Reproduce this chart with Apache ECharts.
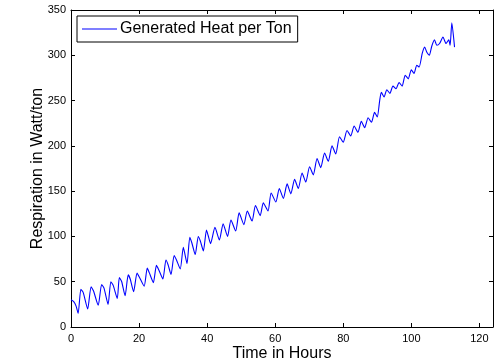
<!DOCTYPE html>
<html>
<head>
<meta charset="utf-8">
<script src="https://cdn.jsdelivr.net/npm/echarts@6/dist/echarts.min.js"></script>
<style>
  html, body { margin: 0; padding: 0; background: #fff; }
  #chart { width: 497px; height: 363px; }
</style>
</head>
<body>
<div id="chart"></div>
<script>
// time (hours) and generated heat per ton (W/ton)
const timeHours = [
  0, 0.8, 1.5, 2.1, 2.9, 3.6, 4.9, 5.9, 6.6, 8.0,
  9.0, 9.7, 10.9, 11.7, 12.4, 13.6, 14.2, 14.9, 15.9, 16.8,
  17.4, 18.4, 19.4, 20.1, 21.5, 22.4, 23.0, 24.2, 25.1, 25.8,
  27.0, 27.9, 28.5, 29.4, 30.3, 31.0, 32.1, 33.0, 33.5, 34.1,
  34.9, 35.5, 36.5, 37.4, 38.0, 38.9, 39.8, 40.3, 41.0, 42.3,
  43.6, 44.7, 46.0, 47.0, 48.4, 49.4, 50.8, 51.8, 53.2, 54.2,
  55.6, 56.5, 57.9, 58.8, 60.2, 61.2, 62.4, 63.5, 64.6, 65.7,
  66.8, 67.9, 69.0, 70.1, 71.2, 72.3, 73.4, 74.5, 75.6, 76.7,
  77.8, 78.9, 80.0, 81.1, 82.2, 83.2, 84.3, 85.3, 86.3, 87.3,
  88.3, 89.2, 90.0, 90.7, 91.2, 92.0, 92.8, 93.7, 94.6, 95.5,
  96.4, 97.3, 98.2, 99.1, 100.0, 100.8, 101.6, 102.3, 103.2, 103.9,
  104.6, 105.3, 106.0, 106.8, 107.5, 108.3, 109.3, 110.2, 111.0, 111.4,
  111.9, 112.7
];
const heatPerTon = [
  30, 28, 23, 15, 41.6, 38, 20, 44.5, 40, 24,
  47, 43, 25, 50, 46, 31.5, 54.5, 50, 34.5, 57.5,
  53, 39, 59.5, 55, 45, 65, 60, 49, 68, 63,
  53, 74, 69, 58, 79, 74, 64, 88, 80, 70,
  99, 93, 80, 100, 95, 84, 107, 101, 92, 110,
  96, 114, 100, 118, 106, 126, 113, 128, 117, 134,
  123, 137, 128, 148, 138, 153, 142, 158, 147, 163,
  153, 170, 160, 177, 168, 186, 176, 192, 183, 200,
  191, 210, 204, 217, 211, 222, 215, 227, 220, 231,
  226, 237, 232, 250, 259, 254, 262, 258, 266, 263,
  270, 266, 278, 274, 284, 280, 289, 287, 302, 309,
  303, 300, 310, 317, 311, 313, 320, 313, 317, 311,
  336, 309
];
const xTicks = [0, 20, 40, 60, 80, 100, 120];
const yTicks = [0, 50, 100, 150, 200, 250, 300, 350];

const font = 'Liberation Sans, Arial, sans-serif';
const chart = echarts.init(document.getElementById('chart'));

const boxAxis = {
  axisLine: { show: true, onZero: false, lineStyle: { color: '#000', width: 1 } },
  axisTick: { show: true, inside: true, length: 4, lineStyle: { color: '#000' } },
  splitLine: { show: false }
};

chart.setOption({
  animation: false,
  textStyle: { fontFamily: font },
  grid: { left: 71, right: 4, top: 10, bottom: 36, outerBoundsMode: 'none' },
  legend: {
    left: 77, top: 16,
    padding: [5, 6, 5, 5],
    borderColor: '#000', borderWidth: 1,
    icon: 'rect',
    itemWidth: 35, itemHeight: 1, itemGap: 4,
    itemStyle: { color: '#0000ff' },
    textStyle: { fontFamily: font, fontSize: 16, color: '#000', padding: [0, 0, 0, -2] },
    data: ['Generated Heat per Ton']
  },
  xAxis: [
    Object.assign({
      type: 'value', min: 0, max: 124, interval: 20,
      name: 'Time in Hours', nameLocation: 'middle', nameGap: 19,
      nameMoveOverlap: false,
      nameTextStyle: { fontFamily: font, fontSize: 16, color: '#000' },
      axisLabel: {
        color: '#000', fontSize: 11, margin: 6,
        formatter: v => xTicks.includes(v) ? String(v) : ''
      }
    }, boxAxis),
    Object.assign({
      type: 'value', min: 0, max: 124, interval: 20, position: 'top',
      axisLabel: { show: false }
    }, boxAxis)
  ],
  yAxis: [
    Object.assign({
      type: 'value', min: 0, max: 350, interval: 50,
      name: 'Respiration in Watt/ton', nameLocation: 'middle', nameGap: 25,
      nameMoveOverlap: false,
      nameTextStyle: { fontFamily: font, fontSize: 16, color: '#000' },
      axisLabel: {
        color: '#000', fontSize: 11, margin: 5,
        formatter: v => yTicks.includes(v) ? String(v) : ''
      }
    }, boxAxis),
    Object.assign({
      type: 'value', min: 0, max: 350, interval: 50, position: 'right',
      axisLabel: { show: false }
    }, boxAxis)
  ],
  series: [{
    name: 'Generated Heat per Ton',
    type: 'line',
    symbol: 'none',
    smooth: 0.2,
    lineStyle: { color: '#0000ff', width: 1.1 },
    itemStyle: { color: '#0000ff' },
    data: timeHours.map((t, i) => [t, heatPerTon[i]])
  }]
});
</script>
</body>
</html>
